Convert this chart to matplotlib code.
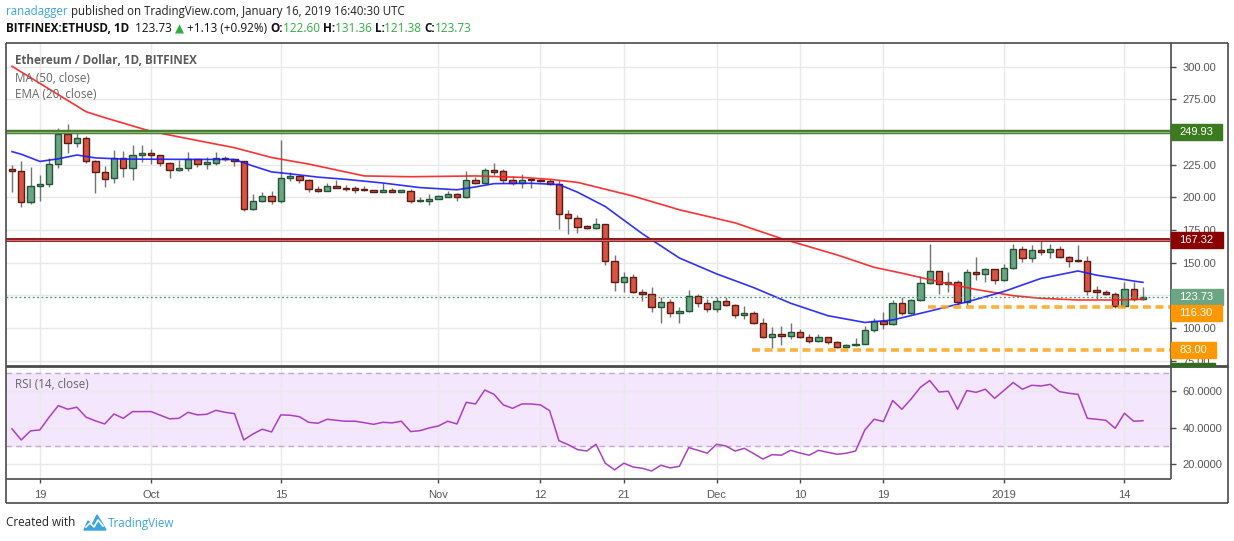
import matplotlib
matplotlib.use("Agg")
import matplotlib.pyplot as plt
import numpy as np
import pandas as pd
from matplotlib.patches import Rectangle, Polygon

# ---- data (BITFINEX:ETHUSD, 1D) ----
dates = pd.date_range("2018-09-16", "2019-01-16", freq="D")

opens = [221.8, 220.5, 196.7, 209.0, 210.5, 225.9, 248.2, 241.3, 245.2, 228.2,
         219.5, 215.2, 229.8, 222.6, 232.1, 233.6, 232.1, 226.4, 221.3, 222.8,
         229.0, 225.9, 226.4, 230.5, 229.0, 227.5, 191.3, 197.0, 201.3, 197.0,
         215.2, 216.2, 213.6, 206.7, 205.2, 209.0, 207.5, 206.5, 206.5, 205.6,
         204.4, 205.2, 204.4, 205.2, 197.0, 197.0, 199.0, 200.3, 202.8, 200.3,
         213.1, 211.0, 221.3, 219.8, 213.1, 211.3, 213.8, 213.6, 212.5, 210.5,
         187.5, 184.4, 178.1, 176.4, 179.6, 151.6, 135.0, 138.9, 127.4, 125.9,
         115.9, 119.7, 111.3, 112.8, 124.8, 119.0, 114.4, 120.5, 117.9, 109.8,
         111.3, 103.7, 93.0, 95.3, 93.7, 96.8, 93.0, 89.9, 93.0, 89.2,
         85.8, 86.9, 87.7, 98.6, 105.5, 103.0, 119.0, 111.8, 121.5, 134.3,
         143.4, 133.5, 135.0, 119.7, 142.7, 141.2, 145.0, 136.8, 145.8, 160.3,
         153.4, 159.8, 158.5, 160.3, 154.1, 152.0, 151.7, 128.7, 127.9, 126.0,
         117.0, 129.7, 122.60]
highs = [224.6, 227.7, 223.0, 216.9, 230.5, 252.8, 256.2, 250.2, 247.0, 228.5,
         223.8, 236.2, 235.4, 240.0, 240.0, 236.7, 232.5, 226.8, 228.5, 234.4,
         229.5, 230.6, 234.9, 232.0, 229.3, 227.8, 202.3, 204.1, 205.0, 243.8,
         219.5, 217.5, 214.0, 208.5, 211.0, 213.6, 209.8, 209.0, 209.0, 206.0,
         211.3, 207.0, 206.0, 206.5, 200.3, 202.3, 201.5, 205.2, 203.0, 220.2,
         215.4, 222.3, 226.4, 222.0, 216.0, 218.2, 215.0, 215.0, 214.0, 213.0,
         190.5, 186.5, 178.9, 184.0, 180.0, 156.0, 143.2, 141.2, 130.0, 131.2,
         124.0, 122.0, 115.9, 129.2, 126.1, 122.0, 124.0, 123.5, 118.2, 116.9,
         112.8, 107.5, 100.6, 101.5, 103.7, 99.0, 95.3, 95.5, 93.3, 89.8,
         87.5, 92.4, 101.6, 107.5, 112.5, 121.5, 124.0, 122.0, 139.9, 164.3,
         144.0, 142.7, 137.0, 145.2, 154.2, 146.0, 145.5, 149.0, 164.3, 162.5,
         163.4, 168.0, 164.3, 163.0, 155.5, 163.6, 155.0, 132.0, 129.0, 127.5,
         135.5, 135.5, 131.36]
lows = [204.0, 193.0, 195.0, 197.0, 208.0, 222.6, 234.0, 238.2, 226.4, 203.3,
        207.9, 211.0, 215.6, 213.0, 227.2, 225.4, 223.8, 215.1, 220.0, 220.0,
        223.3, 222.0, 225.0, 228.0, 224.0, 189.5, 190.0, 196.5, 195.0, 195.6,
        212.5, 211.0, 204.1, 204.0, 204.8, 206.8, 205.0, 203.3, 205.0, 204.0,
        204.0, 204.2, 204.0, 196.0, 196.5, 194.4, 198.5, 200.0, 197.0, 199.7,
        210.0, 210.5, 217.5, 210.8, 209.8, 207.5, 207.5, 211.5, 209.5, 176.0,
        172.0, 172.5, 175.6, 175.8, 148.3, 128.6, 127.8, 126.6, 121.0, 112.5,
        104.0, 108.3, 103.7, 112.0, 116.4, 112.0, 112.0, 117.0, 108.0, 107.2,
        103.5, 92.8, 84.6, 87.0, 91.5, 92.5, 88.7, 89.5, 88.0, 85.0,
        84.8, 86.5, 87.5, 97.0, 99.0, 102.5, 110.0, 110.5, 120.5, 133.5,
        125.9, 127.8, 118.0, 118.0, 136.8, 135.0, 133.5, 136.0, 145.0, 150.8,
        150.8, 155.9, 153.4, 153.5, 147.0, 150.8, 125.0, 122.0, 125.5, 115.0,
        116.5, 120.7, 121.38]
closes = [220.2, 196.7, 209.0, 210.5, 225.9, 248.2, 241.3, 245.2, 228.2, 219.5,
          214.4, 229.8, 222.6, 232.1, 233.6, 232.1, 226.4, 221.3, 222.8, 229.0,
          225.9, 227.0, 230.5, 229.0, 227.5, 191.3, 197.0, 201.3, 197.0, 215.2,
          216.2, 213.6, 206.7, 205.2, 209.0, 207.5, 206.4, 206.0, 205.5, 204.4,
          205.2, 204.4, 205.2, 197.0, 197.7, 199.0, 200.8, 202.8, 200.3, 213.1,
          211.0, 221.3, 219.5, 213.1, 211.3, 213.6, 213.0, 212.3, 210.5, 187.5,
          184.4, 177.7, 176.4, 179.6, 151.6, 135.0, 138.9, 127.4, 125.9, 115.9,
          119.7, 111.3, 112.8, 124.8, 119.0, 114.4, 120.5, 117.9, 109.8, 111.3,
          103.7, 93.0, 95.3, 93.7, 96.8, 93.0, 89.9, 93.0, 89.2, 85.8,
          86.9, 87.7, 98.6, 105.5, 103.0, 119.0, 111.8, 121.5, 134.3, 143.4,
          133.5, 135.0, 119.7, 142.7, 141.2, 145.0, 136.8, 145.8, 160.3, 153.4,
          159.8, 158.5, 160.3, 154.1, 151.7, 151.2, 128.7, 127.9, 126.0, 117.0,
          129.7, 122.6, 123.73]

rsi14 = [39.4, 33.3, 38.3, 38.8, 45.8, 52.2, 50.2, 51.3, 45.8, 43.8,
         42.1, 47.6, 45.2, 48.9, 48.9, 48.9, 46.9, 44.9, 45.2, 48.5,
         47.1, 47.4, 49.6, 48.5, 47.8, 33.3, 36.6, 39.2, 37.7, 47.1,
         46.9, 46.1, 43.0, 42.5, 44.7, 44.1, 43.6, 43.6, 42.8, 41.9,
         43.0, 42.7, 43.6, 37.9, 38.4, 39.9, 41.0, 43.6, 42.1, 54.0,
         53.1, 60.8, 58.4, 52.6, 50.7, 53.1, 53.1, 52.6, 49.4, 32.9,
         30.7, 28.0, 27.2, 30.9, 20.5, 16.8, 20.5, 18.4, 17.7, 16.2,
         19.4, 17.9, 18.8, 29.1, 27.6, 26.0, 30.9, 30.0, 27.2, 28.7,
         25.8, 22.8, 25.2, 24.9, 27.6, 26.1, 24.9, 27.6, 26.5, 25.4,
         26.0, 27.2, 38.8, 44.7, 43.4, 55.0, 50.2, 55.9, 62.3, 66.0,
         59.7, 60.1, 50.2, 60.5, 59.5, 61.2, 56.2, 60.5, 64.9, 61.2,
         63.4, 63.0, 63.9, 59.9, 59.0, 58.4, 45.2, 44.7, 44.1, 39.7,
         48.0, 43.6, 43.9]

ma50_dates = ["2018-09-16", "2018-09-24", "2018-09-26", "2018-10-01", "2018-10-06",
              "2018-10-10", "2018-10-14", "2018-10-18", "2018-10-24", "2018-10-29",
              "2018-11-05", "2018-11-10", "2018-11-13", "2018-11-16", "2018-11-22",
              "2018-11-27", "2018-12-03", "2018-12-08", "2018-12-14", "2018-12-18",
              "2018-12-21", "2018-12-25", "2018-12-29", "2019-01-02", "2019-01-05",
              "2019-01-09", "2019-01-13", "2019-01-16"]
ma50_vals = [300.3, 265.5, 261.0, 250.5, 243.5, 238.0, 230.5, 225.5, 216.4, 215.8,
             216.4, 215.3, 213.8, 211.5, 201.0, 190.5, 180.5, 168.5, 156.0, 146.5,
             142.0, 135.5, 129.5, 124.8, 122.8, 121.5, 121.5, 122.0]

ema20_dates = ["2018-09-16", "2018-09-17", "2018-09-19", "2018-09-21", "2018-09-23",
               "2018-09-25", "2018-09-28", "2018-10-04", "2018-10-10", "2018-10-12",
               "2018-10-14", "2018-10-16", "2018-10-19", "2018-10-22", "2018-10-26",
               "2018-10-30", "2018-11-03", "2018-11-05", "2018-11-07", "2018-11-11",
               "2018-11-14", "2018-11-16", "2018-11-19", "2018-11-23", "2018-11-27",
               "2018-12-01", "2018-12-05", "2018-12-09", "2018-12-13", "2018-12-17",
               "2018-12-20", "2018-12-24", "2018-12-28", "2019-01-01", "2019-01-05",
               "2019-01-09", "2019-01-11", "2019-01-15", "2019-01-16"]
ema20_vals = [235.0, 233.0, 227.5, 229.5, 232.4, 230.2, 229.3, 229.1, 229.0, 224.0,
              219.5, 218.0, 215.5, 213.8, 211.0, 207.5, 205.8, 208.0, 210.5, 210.8,
              209.8, 204.0, 193.0, 172.2, 153.6, 141.5, 131.0, 119.0, 109.5, 104.3,
              106.2, 113.0, 120.0, 128.0, 138.0, 143.7, 140.5, 136.0, 135.0]

resistance_hi = 249.93
resistance_lo = 167.32
support_hi, support_hi_from = 116.30, "2018-12-24"
support_lo, support_lo_from = 83.00, "2018-12-05"
last_close = 123.73

tick_dates = ["2018-09-19", "2018-10-01", "2018-10-15", "2018-11-01", "2018-11-12",
              "2018-11-21", "2018-12-01", "2018-12-10", "2018-12-19", "2019-01-01",
              "2019-01-14"]
tick_labels = ["19", "Oct", "15", "Nov", "12", "21", "Dec", "10", "19", "2019", "14"]
price_ticks = [75, 100, 125, 150, 175, 200, 225, 250, 275, 300]
rsi_ticks = [20, 40, 60]

# ---- styling ----
W, H = 1234, 541
UP, DOWN = "#6ba583", "#d75442"
UP_EDGE, DOWN_EDGE = "#225437", "#5b1a13"
WICK = "#737375"
GRID = "#e9e9ea"
FRAME = "#4a4a4a"
LABEL = "#555555"
FONT = ["Liberation Sans", "DejaVu Sans"]
HEAD = ["Open Sans", "DejaVu Sans"]

plt.rcParams["font.family"] = FONT

xs = np.arange(len(dates))


def pos(d):
    return dates.get_loc(pd.Timestamp(d))


fig = plt.figure(figsize=(W / 100, H / 100), dpi=100)
fig.patch.set_facecolor("white")

ax = fig.add_axes([6 / W, (H - 366) / H, 1164 / W, 323 / H])
ar = fig.add_axes([6 / W, (H - 479) / H, 1164 / W, 113 / H], sharex=ax)
for a in (ax, ar):
    for s in a.spines.values():
        s.set_visible(False)
    a.set_facecolor("white")

# candles
o, h, l, c = map(np.asarray, (opens, highs, lows, closes))
up = c >= o
ax.vlines(xs, l, h, color=WICK, lw=1, zorder=2)
body = np.maximum(np.abs(c - o), 0.9)
ax.bar(xs, body, bottom=np.minimum(o, c), width=0.68,
       color=np.where(up, UP, DOWN), edgecolor=np.where(up, UP_EDGE, DOWN_EDGE),
       linewidth=1, zorder=3)

# moving averages
ax.plot([pos(d) for d in ma50_dates], ma50_vals, color="#ff1a1a", lw=1.2, alpha=0.9, zorder=4)
ax.plot([pos(d) for d in ema20_dates], ema20_vals, color="#1a1aff", lw=1.2, alpha=0.9, zorder=4)

# horizontal levels
ax.axhline(resistance_hi, color="#447a2c", lw=3.2, zorder=5)
ax.axhline(resistance_hi, color="#8fb57d", lw=0.9, zorder=5)
ax.axhline(resistance_lo, color="#8b1414", lw=2.8, zorder=5)
ax.axhline(resistance_lo, color="#c77070", lw=0.9, zorder=5)
xr = len(dates) + 1.92
ax.hlines(support_hi, pos(support_hi_from) - 0.2, xr, color="#ffa31a", lw=2.6,
          linestyles=(0, (2.2, 1.3)), alpha=0.85, zorder=5)
ax.hlines(support_lo, pos(support_lo_from) - 0.2, xr, color="#ffa31a", lw=2.6,
          linestyles=(0, (2.2, 1.3)), alpha=0.85, zorder=5)
ax.axhline(last_close, color="#3f9b68", lw=0.9, ls=(0, (1.5, 2)), zorder=4)

ax.set_xlim(-0.647, 124.92)
ax.set_ylim(71.0, 318.1)

# tick labels that sit under a price tag are hidden, as on the original
tag_values = [resistance_hi, resistance_lo, last_close, support_hi, support_lo]
price_labels = ["" if min(abs(v - t) for t in tag_values) < 4 else f"{v:.2f}"
                for v in price_ticks]
ax.set_yticks(price_ticks)
ax.set_yticklabels(price_labels)
ax.yaxis.tick_right()
ax.tick_params(axis="y", length=4, width=1, color=FRAME, pad=5, labelsize=8, labelcolor=LABEL)
ax.set_xticks([pos(d) for d in tick_dates])
ax.tick_params(axis="x", length=0, labelbottom=False)
ax.grid(True, color=GRID, lw=1)
ax.set_axisbelow(True)

# RSI pane
ar.axhspan(30, 70, color="#f4e6fd", zorder=0)
for lvl in (30, 70):
    ar.axhline(lvl, color="#bdaec6", lw=1, ls=(0, (4, 3)), zorder=1)
ar.plot(xs, rsi14, color="#ab3fc3", lw=1.1, zorder=3)
ar.set_ylim(11.8, 74.0)
ar.set_yticks(rsi_ticks)
ar.set_yticklabels([f"{v:.4f}" for v in rsi_ticks])
ar.yaxis.tick_right()
ar.tick_params(axis="y", length=4, width=1, color=FRAME, pad=5, labelsize=8, labelcolor=LABEL)
ar.set_xticks([pos(d) for d in tick_dates])
ar.set_xticklabels(tick_labels)
ar.tick_params(axis="x", length=3, width=1, color=FRAME, pad=5, labelsize=8, labelcolor=LABEL)
ar.grid(True, color=GRID, lw=1, zorder=0)
ar.set_axisbelow(True)

# overlay in pixel units for frame, header, labels
ov = fig.add_axes([0, 0, 1, 1], zorder=10)
ov.set_xlim(0, W)
ov.set_ylim(H, 0)
ov.axis("off")
ov.patch.set_alpha(0)

for xa, ya, xb, yb, lw in [(6, 43, 1228, 43, 1.2), (6, 43, 6, 503, 1.2), (1228, 43, 1228, 503, 1.2),
                           (6, 503, 1228, 503, 1.2), (1170.5, 43, 1170.5, 479, 1.2),
                           (6, 366, 1228, 366, 2.0), (6, 479, 1170.5, 479, 1.2)]:
    ov.plot([xa, xb], [ya, yb], color=FRAME, lw=lw, solid_capstyle="butt")

fig.canvas.draw()
rend = fig.canvas.get_renderer()


def run_text(x, y, parts, size, family=HEAD):
    for txt, col, wt in parts:
        t = ov.text(x, y, txt, color=col, fontsize=size, fontweight=wt,
                    family=family, va="center", ha="left")
        x += t.get_window_extent(rend).width


run_text(6, 12, [("ranadagger", "#3ba5dc", "normal"),
                 (" published on TradingView.com, January 16, 2019 16:40:30 UTC", "#222222", "normal")], 8.3)
gr = "#2fae3f"
run_text(6, 29, [("BITFINEX:ETHUSD, 1D", "#111111", "bold"), ("  123.73 ", "#111111", "normal"),
                 ("\u25b2", gr, "normal"), (" +1.13 (+0.92%) ", "#111111", "normal"),
                 ("O:", "#111111", "bold"), ("122.60 ", gr, "normal"),
                 ("H:", "#111111", "bold"), ("131.36 ", gr, "normal"),
                 ("L:", "#111111", "bold"), ("121.38 ", gr, "normal"),
                 ("C:", "#111111", "bold"), ("123.73", gr, "normal")], 8.5)

ov.text(15, 61, "Ethereum / Dollar, 1D, BITFINEX", color="#5a5a5a", fontsize=8.4,
        fontweight="bold", family=HEAD, va="center")
ov.text(15, 78, "MA (50, close)", color="#666666", fontsize=8.4, family=HEAD, va="center")
ov.text(15, 95, "EMA (20, close)", color="#666666", fontsize=8.4, family=HEAD, va="center")
ov.text(15, 384, "RSI (14, close)", color="#666666", fontsize=8.4, family=HEAD, va="center")

# price tags on the right axis, pushed down when they would overlap
tags = [(resistance_hi, "#3b7a1e"), (resistance_lo, "#8b0000"),
        (last_close, "#6ba583"), (support_hi, "#ff9800"), (support_lo, "#ff9800")]
prev_bottom = -1e9
for val, col in sorted(tags, key=lambda t: -t[0]):
    yc = H - ax.transData.transform((0, val))[1]
    yc = max(yc, prev_bottom + 8)
    t = ov.text(1179, yc, f"{val:.2f}", color="white", fontsize=8, va="center", ha="left", zorder=12)
    tw = t.get_window_extent(rend).width
    ov.add_patch(Rectangle((1171, yc - 8), tw + 17.5, 16, color=col, zorder=11))
    prev_bottom = yc + 8
ov.add_patch(Rectangle((1171, 362.5), 44, 3, color="#2f6d1c", zorder=11))

# footer
ov.text(6, 523, "Created with", color="#222222", fontsize=8.4, family=HEAD, va="center")
ov.add_patch(Polygon([(84, 530), (88, 521), (92, 525), (97, 515), (102, 523), (106, 530)],
                     closed=True, color="#3ba5dc"))
ov.plot([86, 90, 94, 98, 103], [527, 523, 527, 520, 526], color="white", lw=1.2)
ov.text(108, 523, "TradingView", color="#3ba5dc", fontsize=8.4, family=HEAD, va="center")

fig.savefig("out.png", dpi=100)
